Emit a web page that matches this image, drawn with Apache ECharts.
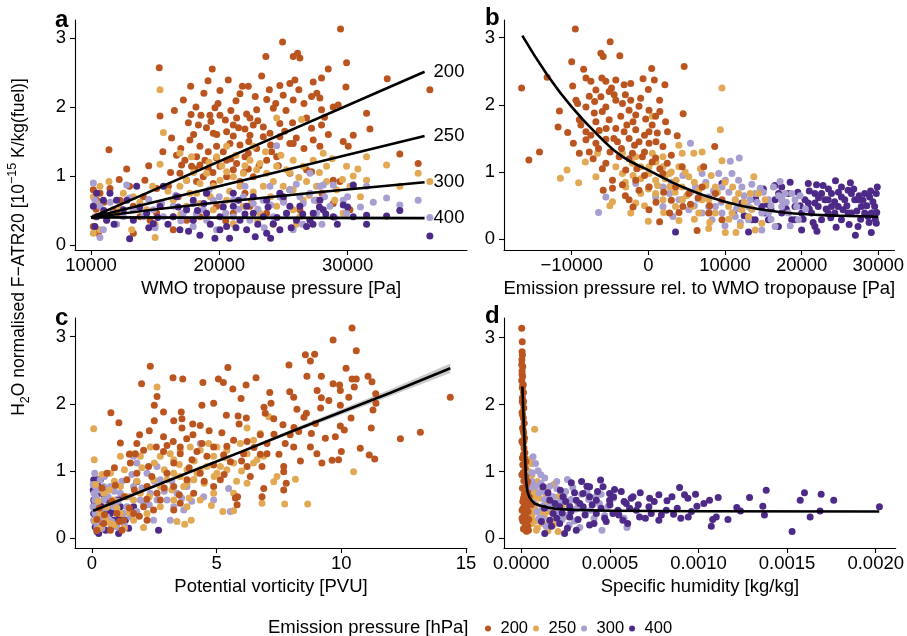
<!DOCTYPE html>
<html lang="en">
<head>
<meta charset="UTF-8">
<title>F-ATR20 scatter panels</title>
<script src="https://cdn.jsdelivr.net/npm/echarts@6/dist/echarts.min.js"></script>
<style>
  html, body { margin: 0; padding: 0; background: #fff; }
  #chart { width: 907px; height: 636px; }
</style>
</head>
<body>
<div id="chart"></div>
<script>
// emission pressure groups [hPa]
const groups = ['200', '250', '300', '400'];
const groupColors = ['#bb5520', '#e2a955', '#a89ecf', '#4d2a88'];

// tick labels
const ticksY = [0, 1, 2, 3];
const ticksA = [10000, 20000, 30000];
const ticksB = [-10000, 0, 10000, 20000, 30000];
const ticksC = [0, 5, 10, 15];
const ticksD = [0, 0.0005, 0.001, 0.0015, 0.002];

// panel a: WMO tropopause pressure [Pa] vs F-ATR20
const a200 = [[29450,3.13],[24930,2.94],[23630,2.73],[26100,2.78],[25760,2.73],[26280,2.71],[15320,2.57],[19450,2.55],[29920,2.64],[33090,2.41],[36410,2.25],[20700,2.39],[19120,2.38],[17770,2.30],[22260,2.30],[20050,2.24],[21610,2.19],[24720,2.31],[25500,2.34],[24980,2.17],[25890,2.39],[27320,2.36],[27970,2.42],[28490,2.55],[29870,2.29],[23700,2.11],[25760,2.10],[27190,2.15],[27840,2.13],[28880,2.00],[29270,2.03],[27970,1.96],[31480,1.91],[18180,2.00],[19660,1.99],[21300,2.09],[21350,1.84],[22130,1.90],[22390,1.84],[22910,1.96],[24210,1.98],[17800,1.89],[18570,1.88],[19270,1.88],[20050,1.88],[15380,1.87],[17590,1.77],[18370,1.74],[19350,1.79],[20470,1.81],[21090,1.74],[22000,1.68],[22650,1.74],[23430,1.71],[24720,1.76],[25710,1.77],[26800,1.84],[31740,1.68],[30440,1.59],[27970,1.74],[27190,1.69],[16280,1.55],[17710,1.52],[19530,1.62],[20570,1.64],[21090,1.58],[22390,1.59],[23430,1.57],[23950,1.62],[24720,1.57],[18490,1.43],[19140,1.35],[19790,1.43],[20310,1.35],[20830,1.47],[21610,1.45],[22260,1.33],[22910,1.40],[24080,1.35],[25500,1.47],[25760,1.47],[27320,1.52],[27840,1.43],[29660,1.50],[30050,1.43],[34070,1.32],[16670,1.30],[17320,1.23],[18230,1.28],[18880,1.23],[19790,1.26],[20570,1.23],[21350,1.18],[22000,1.28],[23690,1.23],[24470,1.28],[17060,1.16],[17840,1.14],[18490,1.16],[19140,1.11],[20050,1.14],[21090,1.09],[22260,1.10],[35500,1.18],[12780,1.10],[11400,1.38],[14200,0.94],[16030,0.85],[15120,0.82],[16930,1.04],[17450,0.94],[18230,0.92],[18750,0.99],[19530,0.89],[20570,0.99],[21610,0.92],[22650,0.99],[25500,1.04],[26800,1.09],[27190,1.06],[28880,0.94],[29400,0.92],[10180,0.80],[10700,0.75],[10440,0.65],[11480,0.82],[10960,0.46],[10180,0.27],[10570,0.17],[11740,0.51],[12260,0.65],[13300,0.56],[14080,0.70],[15120,0.46],[16410,0.22],[17450,0.36],[18490,0.41],[19790,0.56],[21090,0.46],[22390,0.56],[23690,0.46],[24980,0.65],[26280,0.51],[27580,0.65],[28880,0.60],[30180,0.51],[13300,0.17],[13820,0.41],[14600,0.36],
  [16500,1.95],[17200,2.10],[18800,2.20],[19900,2.05],[20900,1.95],[21800,2.30],[22800,2.15],[23300,2.45],[23900,2.25],[24400,2.05],[25200,1.95],[26200,2.25],[26600,2.05],[27600,2.20],[28200,1.85],[19000,1.70],[19800,1.60],[21500,1.70],[22300,1.50],[23000,1.80],[24000,1.45],[25100,1.65],[26000,1.55],[26600,1.40],[28500,1.60],[18000,1.60],[17000,1.40],[18100,1.10],[19500,1.05],[20900,1.25],[21900,1.05],[23100,1.15],[24600,1.15],[16200,1.05],[15600,1.35],[14500,1.15],[13000,0.85],[12200,0.95],[16800,0.70],[19000,0.75],[22000,0.75],[25500,0.80],[28000,0.75],[20500,0.35],[24200,0.30],[12000,0.45],[11000,0.62],[10400,0.52]];
const a250 = [[15380,2.25],[15640,1.63],[15380,1.17],[24470,1.84],[26410,1.82],[31480,1.28],[33040,1.16],[35500,1.04],[36410,0.92],[34070,0.85],[31480,0.94],[30440,1.00],[29920,1.14],[28100,1.33],[28360,1.14],[27320,1.23],[26540,1.14],[25760,1.23],[25240,1.09],[24470,1.14],[23690,1.04],[22910,1.09],[22390,1.23],[21870,1.04],[21090,0.99],[20570,1.06],[20050,0.94],[19530,0.85],[19010,1.04],[18490,0.89],[17840,1.28],[17450,0.94],[16930,0.85],[18230,0.75],[21610,0.85],[22650,0.77],[23430,0.85],[24210,0.92],[24980,0.85],[25760,0.80],[26800,0.92],[27580,0.85],[28360,0.92],[29140,0.80],[26540,0.65],[25760,0.51],[24470,0.56],[23170,0.46],[21870,0.56],[20570,0.65],[19530,0.51],[18490,0.60],[17450,0.56],[16410,0.65],[15380,0.60],[14340,0.51],[13300,0.70],[12520,0.75],[11400,0.92],[10700,0.85],[10180,0.70],[10310,0.41],[10180,0.17],[10700,0.22],[11220,0.36],[13170,0.22],[15000,0.11],[16410,0.41],[21090,0.31],[26280,0.41],[29660,0.46],[30180,0.85],[16930,1.33],[19790,1.28],[22650,1.43],[20570,1.43],[23170,1.18],
  [18000,1.05],[19200,1.20],[20200,1.15],[21300,1.30],[22000,1.15],[23600,1.35],[24800,1.30],[25500,1.05],[26200,0.98],[27800,1.05],[28800,1.25],[29600,0.95],[30800,1.10],[27000,0.72],[24000,0.70],[22500,0.65],[20800,0.78],[19300,0.70],[17700,0.75],[16000,0.78],[14800,0.85],[13800,0.62],[12200,0.55],[11000,0.48],[10500,0.60],[17000,0.45],[19000,0.40],[23000,0.35],[26000,0.30],[29000,0.65],[31000,0.70],[15000,0.30]];
const a300 = [[10180,0.90],[12780,0.87],[24470,1.44],[31480,0.85],[33040,0.68],[34070,0.58],[35500,0.65],[36410,0.40],[30440,0.85],[29660,0.65],[28880,0.87],[27840,0.85],[27060,0.75],[26280,0.70],[25500,0.80],[24720,0.70],[23950,0.85],[23430,0.65],[22650,0.60],[21870,0.70],[21090,0.65],[20310,0.56],[19530,0.65],[18750,0.51],[17970,0.60],[17190,0.46],[16410,0.56],[15640,0.41],[14860,0.51],[14080,0.41],[13300,0.51],[12520,0.41],[11740,0.46],[10700,0.56],[10310,0.65],[10960,0.22],[10700,0.11],[17970,0.27],[19790,0.22],[22390,0.36],[25760,0.22],[27580,0.46],[28620,0.56],[26540,0.60],[25240,0.46],[24210,0.41],[21090,0.41],[19010,0.36],[27060,1.04],[28100,0.87],[29920,0.46],
  [11500,0.62],[12000,0.30],[13000,0.68],[14500,0.66],[15500,0.60],[16600,0.72],[18200,0.45],[19200,0.80],[20500,0.46],[21500,0.52],[22000,0.85],[23000,0.52],[24000,0.58],[25000,0.62],[26000,0.88],[27400,0.65],[28200,0.70],[29000,0.40],[30000,0.70],[31000,0.55],[32000,0.62],[20000,0.70],[17000,0.35],[15000,0.25],[23500,0.25],[26500,0.30],[28000,0.30]];
const a400 = [[36410,0.13],[34070,0.50],[31480,0.43],[31480,0.30],[33040,0.42],[30440,0.87],[29660,0.58],[28880,0.41],[28100,0.51],[27320,0.46],[26800,0.27],[26020,0.36],[25240,0.46],[24720,0.75],[24210,0.31],[23690,0.17],[23430,0.41],[22650,0.46],[22130,0.22],[21610,0.36],[21090,0.56],[20570,0.27],[20050,0.41],[19660,0.10],[19010,0.46],[18490,0.14],[17970,0.36],[17450,0.51],[16930,0.22],[16410,0.41],[15640,0.85],[15380,0.56],[14860,0.31],[14340,0.46],[13560,0.85],[13300,0.36],[13010,0.09],[12520,0.51],[11990,0.65],[11480,0.75],[10960,0.65],[10440,0.75],[10180,0.56],[10440,0.41],[10310,0.27],[11220,0.36],[22650,0.70],[23690,0.65],[25500,0.56],[26280,0.56],[27840,0.65],[21090,0.75],[19010,0.75],[17970,0.65],[16670,0.70],[22130,0.56],[24720,0.22],[27060,0.36],[20050,0.22],[30440,0.41],
  [11000,0.50],[11800,0.30],[12800,0.65],[13800,0.55],[14500,0.25],[15200,0.40],[16000,0.30],[16800,0.55],[17600,0.20],[18300,0.50],[19300,0.30],[20300,0.55],[21300,0.25],[22000,0.45],[23000,0.30],[23800,0.55],[24500,0.40],[25600,0.25],[26500,0.45],[27300,0.30],[28300,0.45],[29200,0.30],[30000,0.55],[18800,0.60],[21500,0.65],[25000,0.70],[27800,0.55],[20800,0.10],[22800,0.12],[24000,0.10]];
const aLine200 = [[10000,0.40],[36000,2.51]];
const aLine250 = [[10000,0.40],[36000,1.58]];
const aLine300 = [[10000,0.40],[20000,0.62],[36000,0.91]];
const aLine400 = [[10000,0.40],[36000,0.39]];

// panel b: emission pressure relative to tropopause [Pa]
const b200 = [[-9524,3.13],[-4978,2.94],[-6190,2.77],[-5887,2.72],[-3723,2.73],[-10000,2.64],[-8441,2.53],[433,2.54],[4675,2.57],[-16537,2.25],[-13203,2.41],[-9870,2.28],[-8138,2.40],[-7489,2.35],[-6060,2.40],[-5541,2.35],[-4242,2.37],[-693,2.39],[779,2.37],[2164,2.30],[0,2.23],[-3160,2.30],[-2294,2.32],[-6840,2.22],[-5108,2.20],[-4459,2.15],[-7706,2.13],[-6190,2.12],[-9437,2.07],[-11602,1.91],[-9221,2.02],[-8138,1.97],[-7056,1.88],[-5541,1.97],[-4242,2.07],[-3376,2.02],[-2294,2.07],[-1212,1.98],[87,1.92],[1472,2.07],[4545,1.87],[-1645,1.85],[-2511,1.92],[-9004,1.78],[-6840,1.75],[-5108,1.78],[-3593,1.83],[-346,1.79],[952,1.83],[2251,1.75],[-11775,1.67],[-10519,1.59],[-8138,1.60],[-6407,1.62],[-4242,1.65],[-3160,1.60],[-1645,1.63],[87,1.60],[1169,1.58],[3766,1.54],[-9784,1.43],[-8138,1.48],[-6840,1.43],[-5541,1.49],[-4026,1.45],[-2511,1.50],[-1212,1.45],[87,1.43],[1905,1.38],[8658,1.38],[-14199,1.30],[-15584,1.18],[-9004,1.28],[-7706,1.30],[-5541,1.13],[-3810,1.23],[-2078,1.28],[-779,1.23],[952,1.21],[2468,1.13],[4416,1.08],[7229,1.08],[-2944,1.03],[-4675,0.88],[-5887,0.73],[-3376,0.81],[-1645,0.88],[87,0.78],[1905,0.98],[3550,0.78],[5281,0.68],[7013,0.78],[8745,0.68],[9610,0.59],[-2511,0.59],[87,0.44],[1472,0.26],[2771,0.39],[4502,0.49],[6364,0.13],[7879,0.39],[9610,0.29],[-4675,0.76],[-1212,0.73],
  [-7000,2.05],[-6000,1.90],[-4800,2.25],[-3000,2.15],[-2000,1.75],[-1000,2.10],[500,1.70],[1500,1.90],[-8800,1.70],[-7500,1.55],[-5500,1.65],[-4500,1.50],[-3500,1.35],[-2800,1.70],[-1800,1.40],[-500,1.55],[1000,1.45],[2500,1.60],[-6500,1.35],[-5000,1.30],[-2500,1.20],[-1500,1.05],[-500,1.30],[500,1.15],[1500,1.05],[3000,1.25],[-3000,0.65],[-2000,0.48],[-500,0.95],[1000,0.55],[2000,0.70],[3000,0.58],[4000,0.40],[5500,0.52],[6500,0.62],[8000,0.50],[-6000,1.05],[-7200,1.20]];
const b250 = [[-11472,0.91],[-10606,1.03],[-9091,0.84],[-8225,1.15],[-6840,0.93],[-6623,1.28],[-5022,0.50],[-4675,0.56],[-4242,1.08],[-3376,0.98],[-2078,1.13],[-1645,1.23],[-996,1.08],[87,0.98],[519,1.83],[952,0.88],[1905,1.08],[2771,0.98],[3636,0.88],[3983,1.40],[4416,0.78],[5281,0.93],[5931,1.28],[6580,0.73],[7013,1.30],[7879,0.59],[8745,0.39],[9394,1.63],[9610,2.25],[9610,1.17],[10476,0.49],[11342,0.59],[12208,0.44],[13074,0.34],[13766,0.93],[14372,0.68],[14805,0.24],[13939,0.14],[11429,0.10],[10043,0.10],[7879,0.16],[6580,0.39],[3550,0.49],[1905,0.59],[0,0.27],[-996,0.68],[-2294,0.39],[-1645,0.54],[952,0.68],[2771,0.78],[4416,0.59],[5714,0.49],[7013,0.59],[8745,0.78],[10909,0.39],[11775,0.68],[13290,0.68],[-3376,1.28],[519,1.28],[1905,1.23],[4416,1.28],[3983,1.08],[-2944,0.78],[15238,0.59],[87,1.08],
  [-3000,0.85],[-2000,0.95],[-1000,0.90],[0,0.75],[1000,1.15],[1200,0.80],[2200,0.90],[3000,1.00],[3500,0.70],[4800,1.00],[5000,0.65],[6000,0.85],[6800,1.05],[7500,0.80],[8200,0.95],[9000,0.70],[10000,0.85],[11000,0.78],[12500,0.55],[13500,0.45],[8000,0.25],[6000,0.30],[4000,0.28],[2000,0.40],[-500,0.50],[10500,0.30],[12000,0.20]];
const b300 = [[-6494,0.40],[-5541,0.63],[-1645,0.83],[87,0.78],[952,0.63],[1905,0.49],[3204,0.34],[4416,0.59],[5498,1.43],[6147,0.78],[7013,0.98],[7879,0.63],[8745,0.49],[9610,0.78],[10693,1.16],[10909,0.98],[11862,1.21],[11342,0.59],[12208,0.78],[13074,0.49],[13939,0.68],[14805,0.39],[15671,0.59],[16320,0.78],[17186,0.86],[17403,0.49],[18268,0.39],[19134,0.59],[19567,0.29],[17835,0.68],[16537,0.19],[14805,0.14],[13074,0.29],[11342,0.34],[9610,0.39],[8312,0.29],[7013,0.39],[5281,0.44],[3983,0.59],[2771,0.68],[1905,0.78],[9177,0.98],[10043,0.88],[11775,0.88],[13290,0.59],[14588,0.76],[15671,0.39],[17403,0.59],[18701,0.68],[19351,0.49],[7879,0.49],
  [3000,0.85],[4500,0.95],[5500,0.70],[6500,0.60],[7500,0.85],[8500,0.72],[9500,0.55],[10500,0.70],[11500,0.45],[12500,0.65],[13500,0.82],[14200,0.55],[15000,0.70],[16000,0.50],[17000,0.65],[18000,0.55],[19800,0.65],[20500,0.45],[12000,0.25],[10000,0.20],[16000,0.30],[18500,0.20],[6000,0.50],[8000,0.40]];
const b400 = [[3550,0.11],[9610,0.83],[11126,0.39],[12208,0.54],[13506,0.29],[14805,0.49],[15671,0.29],[16537,0.59],[17403,0.39],[18268,0.68],[19134,0.49],[20000,0.14],[20433,0.59],[20866,0.83],[21299,0.39],[21732,0.68],[21948,0.81],[22165,0.49],[22597,0.29],[23030,0.59],[23463,0.39],[23896,0.68],[24416,0.87],[24762,0.49],[25195,0.29],[25628,0.59],[26061,0.73],[26364,0.84],[26494,0.39],[27013,0.06],[27359,0.59],[27792,0.49],[28225,0.68],[28658,0.34],[29091,0.10],[29524,0.49],[29740,0.68],[29870,0.78],[29740,0.24],[29091,0.39],[27359,0.19],[26061,0.39],[24329,0.39],[21732,0.19],[20000,0.39],[18701,0.29],[16970,0.19],[15238,0.39],[13939,0.29],[20866,0.54],[22597,0.68],[23463,0.59],[25195,0.63],[26926,0.59],[28225,0.39],[28874,0.63],[21732,0.54],[19134,0.29],[17403,0.59],[23896,0.49],[26494,0.68],[13074,0.11],[17403,0.78],
  [14000,0.60],[15000,0.75],[16000,0.45],[16500,0.80],[17800,0.52],[18500,0.85],[19500,0.70],[20200,0.30],[21000,0.72],[21500,0.25],[22200,0.62],[22800,0.80],[23200,0.45],[23800,0.32],[24300,0.56],[24800,0.70],[25400,0.44],[25900,0.50],[26800,0.75],[27200,0.42],[27700,0.30],[28000,0.58],[28500,0.50],[29000,0.72],[29300,0.56],[29800,0.40],[29600,0.30],[26200,0.22],[24500,0.18],[22000,0.12],[19800,0.50],[18000,0.45],[17000,0.68],[15500,0.52],[13500,0.45],[12500,0.35],[21000,0.45],[23500,0.75],[25200,0.78],[27500,0.65],[28800,0.25]];
const bCurve = [[-16440,3.03],[-13200,2.45],[-10000,1.97],[-6400,1.53],[-3376,1.23],[0,1.03],[4416,0.78],[10000,0.56],[15238,0.436],[20000,0.376],[25000,0.35],[30000,0.336]];

// panel c: potential vorticity [PVU]
const c200 = [[10.43,3.13],[9.67,2.95],[10.60,2.79],[8.56,2.73],[8.93,2.74],[8.76,2.64],[7.90,2.58],[2.34,2.56],[5.45,2.54],[10.19,2.53],[8.62,2.41],[9.20,2.41],[11.07,2.41],[3.25,2.39],[3.64,2.37],[5.07,2.37],[6.58,2.39],[4.45,2.32],[10.43,2.37],[10.60,2.37],[11.23,2.33],[9.67,2.30],[9.93,2.28],[1.99,2.30],[6.18,2.28],[5.27,2.32],[5.65,2.22],[7.93,2.18],[7.13,2.17],[9.03,2.20],[10.52,2.25],[9.96,2.20],[11.38,2.15],[2.61,2.11],[4.88,2.01],[8.09,2.10],[9.20,2.09],[11.39,2.01],[14.37,2.10],[7.18,2.01],[5.98,2.08],[2.50,1.98],[4.41,1.98],[9.96,1.98],[8.22,1.92],[9.17,1.94],[11.27,1.91],[0.76,1.87],[2.87,1.88],[3.58,1.88],[5.39,1.83],[5.86,1.82],[6.95,1.86],[8.60,1.86],[10.39,1.79],[1.08,1.72],[2.50,1.75],[3.28,1.75],[3.61,1.78],[4.04,1.70],[4.34,1.68],[6.19,1.79],[7.29,1.78],[7.66,1.69],[8.96,1.71],[9.96,1.67],[10.12,1.61],[11.20,1.64],[1.91,1.54],[2.87,1.51],[3.26,1.44],[3.61,1.64],[4.05,1.54],[5.21,1.57],[6.75,1.54],[7.95,1.54],[8.29,1.59],[8.80,1.56],[9.36,1.49],[9.76,1.51],[12.37,1.48],[13.17,1.58],[1.14,1.42],[1.80,1.41],[2.58,1.36],[3.01,1.38],[3.54,1.36],[4.41,1.41],[4.88,1.36],[5.41,1.37],[5.68,1.46],[6.22,1.44],[7.02,1.41],[7.75,1.41],[8.09,1.36],[8.76,1.36],[10.76,1.34],[1.74,1.26],[2.07,1.31],[2.87,1.29],[3.54,1.26],[4.21,1.29],[4.61,1.22],[5.28,1.24],[6.08,1.26],[6.75,1.25],[7.02,1.26],[9.02,1.26],[10.0,1.29],[11.12,1.24],[11.34,1.18],[9.63,1.16],[9.89,1.17],[8.36,1.15],[9.22,1.12],[7.69,1.07],[1.54,1.12],[2.27,1.07],[3.28,1.12],[4.01,1.17],[4.88,1.09],[5.55,1.14],[6.22,1.07],[6.82,1.07],[7.69,0.99],[6.35,0.92],[7.79,0.82],[6.89,0.74],[7.69,0.72],[6.82,0.62],[5.84,0.62],[5.82,0.50],[5.75,0.60],[0.60,0.97],[0.94,0.79],[1.40,0.87],[1.80,0.97],[2.21,0.77],[2.61,0.67],[3.01,0.97],[3.28,0.77],[3.81,0.87],[4.34,0.97],[4.88,0.77],[5.15,0.87],[4.08,0.67],[3.54,0.52],[2.74,0.57],[2.07,0.47],[1.67,0.37],[1.00,0.37],[0.47,0.22],[0.20,0.12],[0.74,0.12],[1.27,0.27],[2.47,0.42],[3.28,0.42],[2.21,0.27],
  [0.3,0.45],[0.5,0.35],[0.8,0.55],[1.1,0.25],[1.3,0.62],[1.5,0.45],[1.7,0.72],[1.9,0.33],[2.2,0.58],[2.4,0.92],[2.9,0.75],[3.5,0.65],[3.9,1.05],[4.5,0.85],[5.3,0.95],[6.0,1.15],[6.5,1.35],[7.3,1.55],[7.5,1.25],[8.5,1.80],[9.5,2.05],[10.3,2.10],[8.1,1.65],[6.9,1.95],[5.9,1.70],[4.7,1.60],[3.8,1.48],[2.3,1.60],[1.5,1.25],[0.9,1.05],[0.4,0.75],[0.2,0.28],[1.2,0.12]];
const c250 = [[0.07,1.63],[0.09,1.17],[2.61,2.25],[6.22,1.64],[7.09,1.81],[10.49,0.99],[8.16,0.88],[7.73,0.51],[8.65,0.51],[6.82,0.52],[5.25,0.40],[5.68,0.41],[4.79,0.49],[3.98,0.27],[3.72,0.21],[3.41,0.25],[2.07,0.16],[7.29,0.84],[7.42,0.92],[6.48,1.12],[6.62,1.17],[6.88,1.22],[6.22,1.26],[5.68,1.12],[5.41,1.02],[5.15,1.07],[5.01,0.97],[4.61,1.07],[4.34,1.02],[4.08,0.87],[3.81,0.82],[3.68,0.77],[3.54,0.92],[3.28,0.97],[3.01,0.87],[2.74,0.77],[2.47,0.87],[2.21,0.77],[1.94,0.67],[1.67,0.57],[1.40,0.62],[1.14,0.77],[0.87,0.57],[0.60,0.47],[0.33,0.37],[0.13,0.27],[0.20,0.12],[0.47,0.67],[0.74,0.97],[1.14,1.22],[1.54,1.26],[1.94,1.22],[2.34,1.36],[2.74,1.22],[3.14,1.26],[3.54,1.31],[3.94,1.36],[4.34,1.31],[4.68,1.41],[5.01,1.36],[5.41,1.31],[5.95,1.41],[6.48,1.46],[6.75,1.56],[6.22,0.82],[5.68,0.67],[4.88,0.67],[4.34,0.57],[3.81,0.47],[3.28,0.57],[2.74,0.47],[2.21,0.37],[1.67,0.27],[1.14,0.37],[0.74,0.22],[3.81,1.02],[4.21,0.97],[3.28,1.17],[4.88,1.22],
  [0.15,0.80],[0.25,0.55],[0.4,0.95],[0.55,0.30],[0.7,0.72],[0.9,0.85],[1.0,0.45],[1.3,1.02],[1.5,0.38],[1.8,0.85],[2.0,1.05],[2.3,0.62],[2.5,1.12],[2.9,1.02],[3.2,0.72],[3.5,1.10],[3.9,0.60],[4.1,1.15],[4.5,0.82],[4.9,0.92],[5.3,1.20],[5.8,0.85],[6.0,1.00],[0.3,0.15],[0.9,0.20],[1.3,0.15]];
const c300 = [[0.11,0.97],[0.13,0.77],[0.11,0.57],[0.13,0.37],[0.20,0.17],[0.33,0.87],[0.47,0.57],[0.60,0.32],[0.74,0.77],[0.87,0.47],[1.00,0.17],[1.14,0.67],[1.40,0.47],[1.67,1.22],[1.67,0.77],[1.80,1.12],[1.94,0.57],[2.21,0.97],[2.34,0.67],[2.47,0.27],[2.74,0.87],[3.01,0.57],[3.14,0.27],[3.41,0.67],[3.68,0.42],[3.81,0.77],[4.08,0.87],[4.34,1.41],[4.48,0.62],[4.88,0.57],[5.55,0.40],[5.48,0.74],[0.04,0.47],[0.07,0.27],[0.09,0.67],[0.20,0.47],[0.33,0.27],[0.47,0.77],[1.27,0.37],[1.54,0.32],[2.07,0.52],[2.61,0.57],[3.28,0.47],[2.61,1.07],
  [0.05,0.80],[0.1,0.25],[0.15,0.62],[0.25,0.72],[0.3,0.42],[0.4,0.15],[0.5,0.92],[0.55,0.45],[0.65,0.62],[0.8,0.25],[0.9,0.70],[1.05,0.55],[1.2,0.85],[1.3,0.20],[1.5,0.62],[1.6,0.95],[1.8,0.40],[2.0,0.75],[2.3,0.50],[2.5,0.85],[2.9,0.70],[3.2,0.85],[3.6,0.60],[4.0,0.55]];
const c400 = [[0.07,0.87],[0.13,0.77],[0.20,0.57],[0.07,0.37],[0.27,0.07],[0.33,0.67],[0.40,0.47],[0.47,0.27],[0.60,0.57],[0.74,0.37],[0.87,0.27],[1.07,0.07],[1.14,0.47],[1.34,0.27],[1.47,0.15],[1.80,0.84],[2.67,0.12],[0.13,0.17],[0.33,0.37],[1.00,0.57],[1.67,0.47],[0.20,0.87],[0.47,0.72],[0.87,0.42],[0.07,0.57],[0.33,0.17],
  [0.05,0.72],[0.1,0.50],[0.15,0.30],[0.2,0.10],[0.25,0.78],[0.3,0.52],[0.4,0.25],[0.5,0.60],[0.55,0.12],[0.7,0.50],[0.8,0.18],[0.95,0.45],[1.1,0.30],[1.2,0.62],[0.6,0.40],[0.35,0.88]];
const cFitX = [0.05, 2, 4, 6, 8, 10, 12, 14.37];
const cFit = [0.41, 0.70, 0.998, 1.29, 1.59, 1.88, 2.17, 2.53];
const cBandLo = [0.37, 0.68, 0.985, 1.27, 1.56, 1.84, 2.12, 2.46];
const cBandHi = [0.45, 0.72, 1.011, 1.31, 1.62, 1.92, 2.22, 2.60];

// panel d: specific humidity [kg/kg]
const d200 = [[0.000002,3.14],[0.000005,2.94],[0.000004,2.79],[0.000006,2.74],[0.000003,2.67],[0.000008,2.57],[0.000004,2.50],[0.000007,2.42],[0.000002,2.36],[0.00001,2.30],[0.000005,2.25],[0.000012,2.18],[0.000006,2.10],[0.000009,2.02],[0.000014,1.95],[0.000004,1.88],[0.000011,1.80],[0.000016,1.72],[0.000007,1.65],[0.000013,1.58],[0.000018,1.50],[0.000009,1.42],[0.000015,1.35],[0.00002,1.28],[0.000006,1.20],[0.000017,1.12],[0.000022,1.05],[0.00001,0.98],[0.000025,0.92],[0.000014,0.86],[0.000028,0.80],[0.000006,0.75],[0.00002,0.70],[0.00003,0.65],[0.000012,0.60],[0.000034,0.55],[0.000018,0.50],[0.000026,0.45],[0.000004,0.42],[0.000038,0.40],[0.000015,0.35],[0.000031,0.30],[0.000008,0.26],[0.000022,0.22],[0.000036,0.18],[0.000012,0.14],[0.000028,0.11],[0.000045,0.62],[0.000042,0.28],[0.000055,0.50],
  [0.000003,0.95],[0.000008,1.10],[0.000012,1.25],[0.000003,1.45],[0.00001,1.62],[0.000006,1.85],[0.000012,2.05],[0.000009,2.28],[0.000004,2.45],[0.000018,0.95],[0.000024,0.72],[0.000032,0.48],[0.00002,0.35],[0.00003,0.20],[0.000008,0.55],[0.000016,0.65],[0.000036,0.68],[0.000004,0.30],[0.00001,0.45],[0.000022,0.58],[0.000014,1.45],[0.000018,1.20],[0.000002,2.60],[0.000005,2.05],[0.000015,0.15],[0.00004,0.12],[0.000035,0.85],[0.000025,1.15]];
const d250 = [[0.000075,1.63],[0.000056,1.12],[0.00005,1.18],[0.000184,0.81],[0.000207,0.10],[0.00015,0.11],[0.00006,0.95],[0.00009,0.85],[0.00012,0.78],[0.00007,0.72],[0.00014,0.66],[0.0001,0.60],[0.00017,0.55],[0.00008,0.50],[0.00013,0.45],[0.00019,0.40],[0.00006,0.35],[0.00011,0.30],[0.00016,0.25],[0.00004,0.20],[0.00009,0.15],[0.00003,0.10],[0.000045,0.85],[0.00004,0.55],[0.00005,0.30],[0.000035,0.68],[0.00021,0.62],[0.00023,0.48],[0.00025,0.33],[0.00018,0.20],[0.00007,0.42],[0.00012,0.22],[0.00003,0.45],[0.000065,0.58],[0.00008,0.26],
  [0.00004,1.00],[0.000055,0.78],[0.00008,0.65],[0.00011,0.70],[0.000135,0.55],[0.00016,0.40],[0.000185,0.30],[0.00006,0.22],[0.0001,0.40],[0.000085,0.12],[0.000045,0.62],[0.00015,0.75],[0.00003,0.30],[0.00013,0.35]];
const d300 = [[0.000066,1.22],[0.000094,1.01],[0.000132,0.90],[0.000455,0.12],[0.000596,0.16],[0.00008,1.12],[0.00006,0.98],[0.00011,0.82],[0.00016,0.78],[0.0002,0.74],[0.00025,0.70],[0.00029,0.76],[0.00034,0.66],[0.00038,0.58],[0.00044,0.52],[0.00049,0.48],[0.00055,0.40],[0.00018,0.62],[0.00022,0.55],[0.00027,0.50],[0.00031,0.44],[0.00036,0.38],[0.00041,0.30],[0.0001,0.68],[0.00013,0.58],[0.00015,0.46],[0.00019,0.36],[0.00023,0.28],[0.00027,0.20],[0.00033,0.16],[0.00007,0.52],[0.00009,0.40],[0.00012,0.30],[0.00005,0.75],[0.00014,0.18],[0.00042,0.62],[0.0005,0.56],[0.00026,0.88],
  [0.00006,0.85],[0.00008,0.78],[0.00011,0.95],[0.00013,0.70],[0.00016,0.62],[0.00018,0.50],[0.0002,0.85],[0.00022,0.42],[0.00024,0.62],[0.00026,0.34],[0.00028,0.58],[0.0003,0.26],[0.00032,0.52],[0.00035,0.46],[0.00037,0.70],[0.00039,0.42],[0.00045,0.66],[0.00047,0.34],[0.00052,0.60],[0.00058,0.30],[0.0001,0.30],[0.00012,0.48]];
const d400 = [[0.000447,0.87],[0.00034,0.85],[0.000282,0.83],[0.000461,0.77],[0.000526,0.73],[0.000564,0.70],[0.000671,0.68],[0.000776,0.65],[0.000822,0.56],[0.000724,0.60],[0.000893,0.76],[0.000921,0.65],[0.000983,0.66],[0.00094,0.60],[0.000991,0.48],[0.001062,0.57],[0.001111,0.61],[0.001288,0.61],[0.001382,0.72],[0.001363,0.48],[0.001372,0.35],[0.001598,0.68],[0.001574,0.57],[0.001692,0.66],[0.001763,0.57],[0.002021,0.47],[0.001686,0.41],[0.00163,0.32],[0.001528,0.10],[0.001216,0.46],[0.001237,0.41],[0.001166,0.28],[0.0011,0.32],[0.001072,0.18],[0.000942,0.32],[0.0009,0.30],[0.000859,0.36],[0.000776,0.27],[0.000733,0.37],[0.000667,0.32],[0.000611,0.45],[0.000573,0.27],[0.000517,0.37],[0.000479,0.25],[0.000423,0.37],[0.000385,0.20],[0.000348,0.47],[0.00031,0.12],[0.000273,0.32],[0.000244,0.07],[0.000216,0.22],[0.000179,0.37],[0.00016,0.57],[0.000132,0.07],[0.000122,0.77],[0.000113,0.25],[0.000235,0.62],[0.00031,0.57],[0.000385,0.62],[0.000498,0.57],[0.000592,0.52],[0.000649,0.42],[0.00072,0.47],[0.000818,0.42],[0.000498,0.67],[0.000385,0.77],[0.000273,0.47],[0.000423,0.57],[0.000216,0.47],[0.00016,0.27],[0.000348,0.67],[0.000545,0.42],[0.00062,0.60],
  [0.00013,0.45],[0.00015,0.68],[0.00017,0.18],[0.00019,0.52],[0.0002,0.30],[0.00022,0.72],[0.00023,0.38],[0.00025,0.55],[0.00026,0.15],[0.00028,0.40],[0.0003,0.68],[0.00032,0.28],[0.00033,0.52],[0.00036,0.35],[0.00037,0.78],[0.0004,0.50],[0.00041,0.22],[0.00043,0.70],[0.00045,0.45],[0.00047,0.30],[0.0005,0.50],[0.00052,0.62],[0.00055,0.35],[0.00058,0.55],[0.0006,0.22],[0.00063,0.62],[0.00066,0.50],[0.0007,0.30],[0.00075,0.55],[0.00079,0.35],[0.00085,0.62],[0.00088,0.45],[0.00096,0.40],[0.00103,0.52],[0.00108,0.28]];
const dCurve = [[0.0000056,2.27],[0.0000169,1.47],[0.0000263,0.87],[0.000034,0.70],[0.000045,0.62],[0.0000563,0.57],[0.000075,0.52],[0.000103,0.49],[0.00015,0.46],[0.000197,0.44],[0.0003,0.425],[0.0005,0.413],[0.001,0.405],[0.00202,0.40]];

const font = 'Liberation Sans, Arial, sans-serif';
const chart = echarts.init(document.getElementById('chart'), null, { renderer: 'canvas' });

function fmtPlain(v) { return String(v); }
function fmtMinus(v) { return v < 0 ? '\u2212' + Math.abs(v) : String(v); }
function fmtD(v) { return v.toFixed(4); }

function xAxisFor(grid, min, max, ticks, fmt, name) {
  return {
    type: 'value', gridIndex: grid, min: min, max: max,
    name: name, nameLocation: 'middle', nameGap: 29,
    nameTextStyle: { fontFamily: font, fontSize: 18.5, color: '#000' },
    axisLine: { show: true, onZero: false, lineStyle: { color: '#000', width: 1.1 } },
    axisTick: { show: true, length: 5, customValues: ticks, lineStyle: { color: '#000', width: 1.1 } },
    axisLabel: { customValues: ticks, formatter: fmt, margin: 6, fontFamily: font, fontSize: 18.5, color: '#000' },
    splitLine: { show: false }
  };
}
function yAxisFor(grid, min, max) {
  return {
    type: 'value', gridIndex: grid, min: min, max: max,
    axisLine: { show: true, onZero: false, lineStyle: { color: '#000', width: 1.1 } },
    axisTick: { show: true, length: 5, customValues: ticksY, lineStyle: { color: '#000', width: 1.1 } },
    axisLabel: { customValues: ticksY, formatter: fmtPlain, margin: 9, fontFamily: font, fontSize: 18.5, color: '#000' },
    splitLine: { show: false }
  };
}

const series = [];
const panelData = [
  [a200, a250, a300, a400],
  [b200, b250, b300, b400],
  [c200, c250, c300, c400],
  [d200, d250, d300, d400]
];
// drawing order of the groups in each panel (last one on top)
const drawOrder = [[0, 1, 2, 3], [3, 2, 1, 0], [3, 2, 1, 0], [1, 2, 3, 0]];
panelData.forEach(function (sets, p) {
  drawOrder[p].forEach(function (g) {
    series.push({
      type: 'scatter', name: groups[g], xAxisIndex: p, yAxisIndex: p,
      data: sets[g], symbolSize: 7, itemStyle: { color: groupColors[g], opacity: 1 },
      silent: true
    });
  });
});

// panel a fit lines with end labels
[[aLine200, '200'], [aLine250, '250'], [aLine300, '300'], [aLine400, '400']].forEach(function (l) {
  series.push({
    type: 'line', xAxisIndex: 0, yAxisIndex: 0, data: l[0], symbol: 'none', smooth: l[0].length > 2,
    lineStyle: { color: '#000', width: 2.6 }, silent: true,
    endLabel: { show: true, formatter: l[1], distance: 9, fontFamily: font, fontSize: 18.5, color: '#000' }
  });
});
series.push({
  type: 'line', xAxisIndex: 1, yAxisIndex: 1, data: bCurve, symbol: 'none', smooth: true,
  lineStyle: { color: '#000', width: 2.6 }, silent: true
});
// panel c confidence band + fit
series.push({
  type: 'custom', xAxisIndex: 2, yAxisIndex: 2, data: [[0, 0]], silent: true,
  renderItem: function (params, api) {
    const upper = cFitX.map(function (x, i) { return api.coord([x, cBandHi[i]]); });
    const lower = cFitX.map(function (x, i) { return api.coord([x, cBandLo[i]]); }).reverse();
    return { type: 'polygon', shape: { points: upper.concat(lower) }, style: { fill: 'rgba(150,150,150,0.5)' } };
  }
});
series.push({
  type: 'line', xAxisIndex: 2, yAxisIndex: 2, data: cFitX.map(function (x, i) { return [x, cFit[i]]; }),
  symbol: 'none', lineStyle: { color: '#000', width: 2.6 }, silent: true
});
series.push({
  type: 'line', xAxisIndex: 3, yAxisIndex: 3, data: dCurve, symbol: 'none', smooth: false,
  lineStyle: { color: '#000', width: 2.6, join: 'round' }, silent: true
});

const letterStyle = { fontFamily: font, fontSize: 24, fontWeight: 'bold', fill: '#000', verticalAlign: 'middle' };

chart.setOption({
  animation: false,
  backgroundColor: '#fff',
  grid: [
    { left: 75, top: 20, width: 392, height: 230 },
    { left: 504, top: 20, width: 393, height: 230 },
    { left: 75, top: 318, width: 392, height: 230 },
    { left: 504, top: 318, width: 393, height: 230 }
  ],
  xAxis: [
    xAxisFor(0, 8753, 39306, ticksA, fmtPlain, 'WMO tropopause pressure [Pa]'),
    xAxisFor(1, -18831, 32130, ticksB, fmtMinus, 'Emission pressure rel. to WMO tropopause [Pa]'),
    xAxisFor(2, -0.68, 15.04, ticksC, fmtPlain, 'Potential vorticity [PVU]'),
    xAxisFor(3, -0.000098, 0.002113, ticksD, fmtD, 'Specific humidity [kg/kg]')
  ],
  yAxis: [
    yAxisFor(0, -0.072, 3.26),
    yAxisFor(1, -0.159, 3.263),
    yAxisFor(2, -0.144, 3.278),
    yAxisFor(3, -0.145, 3.294)
  ],
  legend: {
    data: groups, left: 480, top: 615, orient: 'horizontal',
    icon: 'circle', itemWidth: 15, itemHeight: 6, itemGap: 5,
    selectedMode: false,
    textStyle: { fontFamily: font, fontSize: 16.5, color: '#000', padding: [0, 0, 0, 0] }
  },
  graphic: [
    { type: 'text', left: 55, top: 8, style: Object.assign({ text: 'a' }, letterStyle) },
    { type: 'text', left: 485, top: 6, style: Object.assign({ text: 'b' }, letterStyle) },
    { type: 'text', left: 55, top: 306, style: Object.assign({ text: 'c' }, letterStyle) },
    { type: 'text', left: 485, top: 304, style: Object.assign({ text: 'd' }, letterStyle) },
    {
      type: 'text', x: 19, y: 247, rotation: Math.PI / 2,
      style: {
        text: '{n|H}{sub|2}{n|O normalised F\u2212ATR20 [10}{sup|\u221215}{n| K/kg(fuel)]}',
        align: 'center', verticalAlign: 'middle',
        rich: {
          n: { fontFamily: font, fontSize: 17.5, fill: '#000', lineHeight: 26, verticalAlign: 'middle' },
          sub: { fontFamily: font, fontSize: 12.5, fill: '#000', lineHeight: 26, verticalAlign: 'bottom' },
          sup: { fontFamily: font, fontSize: 12.5, fill: '#000', lineHeight: 26, verticalAlign: 'top' }
        }
      }
    },
    {
      type: 'text', x: 268, y: 628,
      style: { text: 'Emission pressure [hPa]', fontFamily: font, fontSize: 18.5, fill: '#000', verticalAlign: 'middle' }
    }
  ],
  series: series
});
</script>
</body>
</html>
